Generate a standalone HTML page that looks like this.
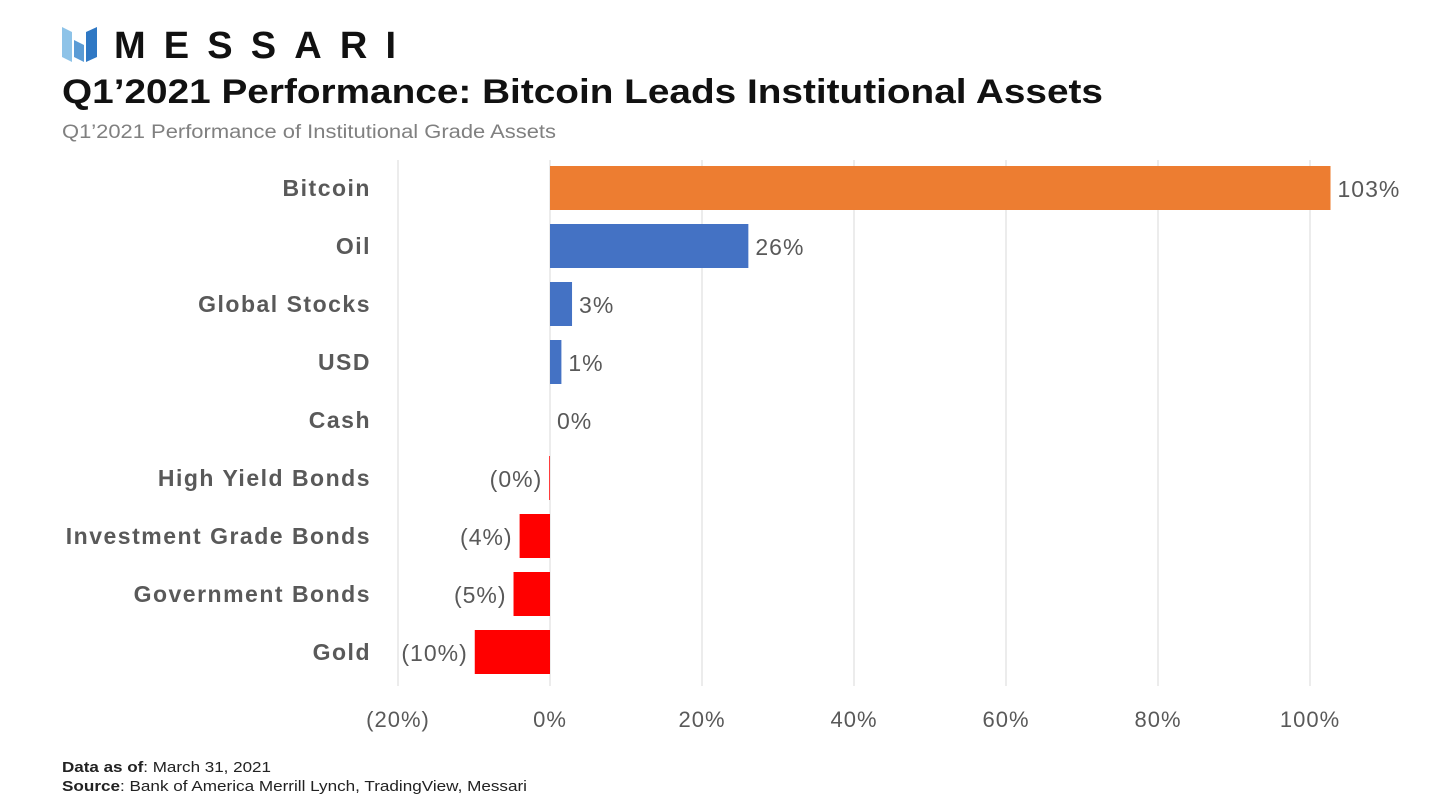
<!DOCTYPE html>
<html><head><meta charset="utf-8"><style>
body{margin:0;background:#fff;width:1433px;height:802px;overflow:hidden;font-family:"Liberation Sans",sans-serif}
</style></head><body>
<svg width="1433" height="802">
<g>
<polygon points="62,27 72,32 72,62 62,57" fill="#8ec3e8"/>
<polygon points="74,40 84,45 84,62 74,57" fill="#5a9bd5"/>
<polygon points="86,32 97,27 97,57 86,62" fill="#2f78c4"/>
<text x="114" y="58" font-size="38" font-weight="bold" textLength="282" lengthAdjust="spacing" fill="#111">MESSARI</text>
</g>
<text x="62" y="103" font-size="34" font-weight="bold" textLength="1041" lengthAdjust="spacingAndGlyphs" fill="#111">Q1’2021 Performance: Bitcoin Leads Institutional Assets</text>
<text x="62" y="138" font-size="19" textLength="494" lengthAdjust="spacingAndGlyphs" fill="#808080">Q1’2021 Performance of Institutional Grade Assets</text>
<g id="grid"></g><g id="bars"></g><g id="labels"></g>
<text x="62" y="772" font-size="15" textLength="209" lengthAdjust="spacingAndGlyphs" fill="#222"><tspan font-weight="bold">Data as of</tspan>: March 31, 2021</text>
<text x="62" y="791" font-size="15" textLength="465" lengthAdjust="spacingAndGlyphs" fill="#222"><tspan font-weight="bold">Source</tspan>: Bank of America Merrill Lynch, TradingView, Messari</text>
</svg>
<script>
const categories=["Bitcoin","Oil","Global Stocks","USD","Cash","High Yield Bonds","Investment Grade Bonds","Government Bonds","Gold"];
const values=[102.7,26.1,2.9,1.5,0,-0.1,-4,-4.8,-9.9];
const valueLabels=["103%","26%","3%","1%","0%","(0%)","(4%)","(5%)","(10%)"];
const ticks=[-20,0,20,40,60,80,100];
const tickLabels=["(20%)","0%","20%","40%","60%","80%","100%"];
const NS="http://www.w3.org/2000/svg";
const x=v=>550+v*7.6;
const y=i=>188+i*58;
function mk(t,a,p){const e=document.createElementNS(NS,t);for(const k in a)e.setAttribute(k,a[k]);document.getElementById(p).appendChild(e);return e;}
ticks.forEach((t,i)=>{
 const l=mk("line",{x1:x(t),x2:x(t),y1:160,y2:686,stroke:"#d9d9d9","stroke-width":1},"grid");
 
 
 const tx=mk("text",{x:x(t),y:727,"font-size":22,"letter-spacing":1,fill:"#595959","text-anchor":"middle"},"grid");
 tx.textContent=tickLabels[i];
 
 
});
categories.forEach((c,i)=>{
 const v=values[i];
 const col=i==0?"#ed7d31":(v<0?"#ff0000":"#4472c4");
 const r=mk("rect",{x:Math.min(x(0),x(v)),y:y(i)-22,width:Math.abs(x(v)-x(0)),height:44,fill:col},"bars");
 
 
 const cl=mk("text",{x:371,y:y(i)+8,"font-size":23,"letter-spacing":1.5,"font-weight":"bold",fill:"#595959","text-anchor":"end"},"labels");
 cl.textContent=c;
 
 
 const vl=mk("text",{x:v>=0?x(v)+7:x(v)-7,y:y(i)+9,"font-size":23,"letter-spacing":1,fill:"#595959","text-anchor":v>=0?"start":"end"},"labels");
 vl.textContent=valueLabels[i];
 
 
});
</script>
</body></html>
